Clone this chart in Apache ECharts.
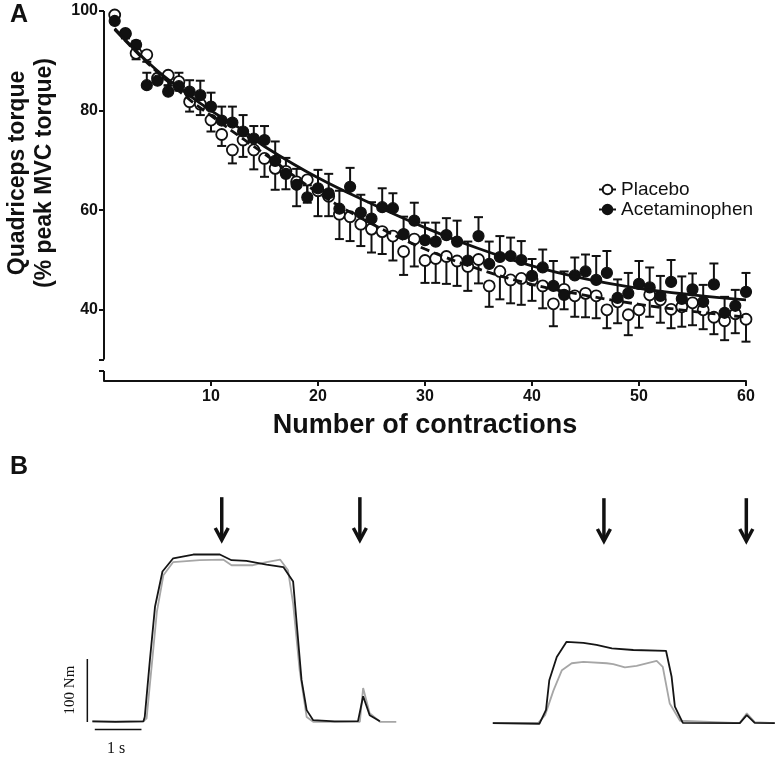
<!DOCTYPE html>
<html><head><meta charset="utf-8">
<script src="https://cdn.jsdelivr.net/npm/echarts@6/dist/echarts.min.js"></script>
<style>html,body{margin:0;padding:0;background:#fff}#c{width:779px;height:760px}</style>
</head><body><div id="c"></div>
<script>
// ---------- Panel A data ----------
const contractions = [1,2,3,4,5,6,7,8,9,10,11,12,13,14,15,16,17,18,19,20,21,22,23,24,25,26,27,28,29,30,31,32,33,34,35,36,37,38,39,40,41,42,43,44,45,46,47,48,49,50,51,52,53,54,55,56,57,58,59,60];
const placeboMean = [99.2,95.5,91.5,91.2,86.5,87.1,85.8,81.8,81.3,78.1,75.2,72.1,74.1,72.1,70.4,68.4,67.8,65.7,66.1,63.9,62.8,59.2,58.7,57.2,56.2,55.7,54.8,51.7,54.2,49.9,50.3,50.7,49.8,48.7,50.1,44.8,47.7,46.0,46.3,46.0,44.8,41.2,44.1,42.8,43.3,42.8,40.0,41.6,39.0,40.0,43.0,42.0,40.1,40.6,41.4,40.0,38.5,37.8,39.2,38.1];
const placeboErrLow = [98.5,94.5,90.3,89.8,85.5,85.1,84.0,79.8,79.1,75.8,72.9,69.4,70.7,68.2,66.7,64.1,64.2,60.8,61.5,58.8,58.8,54.2,53.8,52.8,51.5,51.2,49.9,47.0,48.7,45.4,45.4,45.2,44.8,43.8,45.3,40.6,42.1,41.3,41.0,41.8,40.3,36.7,40.1,38.6,38.5,38.3,36.3,37.3,34.9,36.4,38.6,37.4,36.3,36.6,36.9,36.1,35.1,33.9,35.3,33.6];
const acetMean = [98.0,95.4,93.2,85.1,86.0,83.8,84.9,83.8,83.1,80.8,78.0,77.6,75.8,74.4,74.1,69.9,67.3,65.1,62.6,64.4,63.4,60.3,64.7,59.5,58.3,60.6,60.4,55.2,57.9,54.0,53.7,55.0,53.7,49.9,54.8,49.2,50.6,50.8,50.0,46.8,48.5,44.8,43.0,46.9,47.7,46.0,47.4,42.4,43.3,45.2,44.5,42.8,45.6,42.2,44.1,41.6,45.1,39.4,40.8,43.6];
const acetErrHigh = [98.8,96.2,94.0,87.6,87.2,85.0,87.6,86.1,86.0,83.6,80.8,80.8,79.1,76.9,76.9,73.8,70.5,68.3,65.0,68.1,67.3,63.9,68.5,63.1,61.6,64.4,63.4,58.7,61.5,57.5,57.5,58.4,57.9,53.7,58.6,53.7,54.8,54.5,53.8,50.2,52.1,49.8,47.7,50.5,51.1,50.8,51.8,46.1,47.4,49.8,48.5,46.8,50.0,46.7,47.3,45.0,49.3,42.6,44.0,47.4];
const fitX = [1,3,5,8,10,13,15,20,25,30,35,40,45,50,55,60];
const placeboFit = [96.3,91.8,87.7,82.2,79.0,74.3,71.3,63.5,57.3,52.2,48.2,45.1,42.9,41.1,39.7,38.5];
const acetFit = [96.5,92.0,88.0,83.0,80.0,76.0,72.8,66.5,61.3,56.5,52.3,48.8,46.2,44.3,43.0,42.0];
const xTickValues = [10,20,30,40,50,60];
const yLabelValues = [40,60,80,100];
const yTickValues = [27.7,30,40,60,80,100];
const yAxisSegments = [[30,100],[25.7,27.7]];

// ---------- Panel B data (time s, torque Nm) ----------
const leftBlack = [[0.01,1],[0.5,0.5],[1.10,1],[1.13,8],[1.24,98],[1.35,183],[1.51,239],[1.74,260],[2.17,266],[2.74,266],[2.99,257],[3.31,256],[3.74,250],[4.10,246],[4.31,223],[4.38,162],[4.49,67],[4.60,19],[4.74,3],[5.2,1],[5.70,1.5],[5.81,41],[5.95,11],[6.17,1.5]];
const leftGray = [[0.0,1],[1.10,1],[1.17,6],[1.28,90],[1.39,175],[1.53,233],[1.74,254],[2.31,257],[2.81,258],[2.99,249],[3.45,249],[3.74,254],[4.03,258],[4.20,241],[4.31,188],[4.45,82],[4.60,8],[4.74,0.5],[5.74,0.5],[5.81,54],[5.95,14],[6.17,0.5],[6.52,0.5]];
const rightBlack = [[0.06,0],[1.06,-1],[1.20,21],[1.27,68],[1.43,105],[1.64,129],[2.00,127.5],[2.28,124],[2.61,118.6],[3.07,116],[3.77,114.8],[3.89,73.5],[3.96,26],[4.13,0.5],[5.35,0],[5.50,12.7],[5.67,0.5],[6.10,0]];
const rightGray = [[0.06,0.5],[1.03,0],[1.18,12.7],[1.36,52],[1.54,84],[1.75,95],[2.00,97.3],[2.50,95],[2.64,93.7],[2.89,88.4],[3.14,91],[3.57,98.9],[3.70,89.4],[3.85,31],[4.07,3.7],[5.35,0],[5.50,15.4],[5.67,1.6],[6.10,0]];
const arrowsLeft = [2.78,5.74];
const arrowsRight = [2.44,5.49];
const arrowTopNm = 357, arrowTipNm = 289;
const scaleBarVertical = [[-0.1,0],[-0.1,100]];
const scaleBarHorizontal = [[0.06,-11.6],[1.06,-11.6]];

const INK = '#111';
const chart = echarts.init(document.getElementById('c'), null, {renderer:'canvas'});

function errRender(params, api){
  const x = api.value(0), m = api.value(1), e = api.value(2);
  const p1 = api.coord([x,m]), p2 = api.coord([x,e]);
  return {type:'group', children:[
    {type:'line', shape:{x1:p1[0],y1:p1[1],x2:p2[0],y2:p2[1]}, style:{stroke:INK,lineWidth:2}},
    {type:'line', shape:{x1:p2[0]-4.5,y1:p2[1],x2:p2[0]+4.5,y2:p2[1]}, style:{stroke:INK,lineWidth:2}}
  ]};
}
function arrowRender(params, api){
  const t = api.value(0);
  const a = api.coord([t, arrowTopNm]), b = api.coord([t, arrowTipNm]);
  return {type:'group', children:[
    {type:'line', shape:{x1:a[0],y1:a[1],x2:b[0],y2:b[1]-2}, style:{stroke:INK,lineWidth:3.5}},
    {type:'polyline', shape:{points:[[b[0]-6.5,b[1]-12],[b[0],b[1]],[b[0]+6.5,b[1]-12]]}, style:{stroke:INK,lineWidth:3.5,fill:null,lineJoin:'miter'}}
  ]};
}
function segRender(params, api){
  const a = api.coord([0, api.value(0)]), b = api.coord([0, api.value(1)]);
  return {type:'line', shape:{x1:a[0],y1:a[1],x2:b[0],y2:b[1]}, style:{stroke:INK,lineWidth:2}};
}

const legendIcon = 'path://M0,6L3.5,6M12.5,6L16,6M3.5,6A4.5,4.5,0,1,0,12.5,6A4.5,4.5,0,1,0,3.5,6Z';
const FONT = '"Liberation Sans", Arial, sans-serif';
const SERIF = '"Liberation Serif", "Times New Roman", serif';

const option = {
  animation:false,
  backgroundColor:'#fff',
  grid:[
    {left:104, top:11, width:642, height:370},
    {left:78, top:489, width:322, height:252},
    {left:490, top:490, width:289, height:252}
  ],
  xAxis:[
    {gridIndex:0, type:'value', min:0, max:60,
     axisLine:{show:true, lineStyle:{color:INK,width:2}},
     axisTick:{show:true, customValues:xTickValues, length:5, lineStyle:{color:INK,width:2}},
     axisLabel:{customValues:xTickValues, color:INK, fontSize:16, fontWeight:'bold', fontFamily:FONT, margin:8},
     splitLine:{show:false},
     name:'Number of contractions', nameLocation:'middle', nameGap:31,
     nameTextStyle:{color:INK, fontSize:27, fontWeight:'bold', fontFamily:FONT}},
    {gridIndex:1, type:'value', min:-0.3, max:6.6, show:false},
    {gridIndex:2, type:'value', min:0, max:6.19, show:false}
  ],
  yAxis:[
    {gridIndex:0, type:'value', min:25.7, max:100,
     axisLine:{show:false},
     axisTick:{show:true, customValues:yTickValues, length:5, lineStyle:{color:INK,width:2}},
     axisLabel:{customValues:yLabelValues, color:INK, fontSize:16, fontWeight:'bold', fontFamily:FONT, margin:6},
     splitLine:{show:false}},
    {gridIndex:1, type:'value', min:-30, max:370, show:false},
    {gridIndex:2, type:'value', min:-30, max:370, show:false}
  ],
  legend:{
    orient:'vertical', left:593, top:175, itemGap:1, itemWidth:17, itemHeight:11,
    icon:legendIcon,
    textStyle:{color:INK, fontSize:19, fontFamily:FONT},
    data:['Placebo','Acetaminophen']
  },
  series:[
    {type:'custom', name:'yaxis', xAxisIndex:0, yAxisIndex:0, renderItem:segRender, data:yAxisSegments, silent:true, clip:false, z:1},
    {type:'custom', name:'placeboErr', xAxisIndex:0, yAxisIndex:0, renderItem:errRender,
     data:contractions.map((c,i)=>[c, placeboMean[i], placeboErrLow[i]]), z:2},
    {type:'custom', name:'acetErr', xAxisIndex:0, yAxisIndex:0, renderItem:errRender,
     data:contractions.map((c,i)=>[c, acetMean[i], acetErrHigh[i]]), z:2},
    {type:'scatter', name:'Placebo', xAxisIndex:0, yAxisIndex:0, symbol:'circle', symbolSize:11,
     itemStyle:{color:'#fff', borderColor:INK, borderWidth:1.8, opacity:1},
     data:contractions.map((c,i)=>[c, placeboMean[i]]), z:3},
    {type:'line', name:'placeboFit', xAxisIndex:0, yAxisIndex:0, smooth:0.4, showSymbol:false, symbol:'none',
     lineStyle:{color:INK, width:2.8, type:[9,5]}, data:fitX.map((x,i)=>[x, placeboFit[i]]), z:4},
    {type:'scatter', name:'Acetaminophen', xAxisIndex:0, yAxisIndex:0, symbol:'circle', symbolSize:11,
     itemStyle:{color:INK, borderColor:INK, borderWidth:1.2, opacity:1},
     data:contractions.map((c,i)=>[c, acetMean[i]]), z:5},
    {type:'line', name:'acetFit', xAxisIndex:0, yAxisIndex:0, smooth:0.4, showSymbol:false, symbol:'none',
     lineStyle:{color:INK, width:2.8}, data:fitX.map((x,i)=>[x, acetFit[i]]), z:6},

    {type:'line', name:'leftGray', xAxisIndex:1, yAxisIndex:1, showSymbol:false, symbol:'none', clip:false,
     lineStyle:{color:'#a6a6a6', width:1.8}, data:leftGray},
    {type:'line', name:'leftBlack', xAxisIndex:1, yAxisIndex:1, showSymbol:false, symbol:'none', clip:false,
     lineStyle:{color:'#151515', width:1.8}, data:leftBlack},
    {type:'line', name:'rightGray', xAxisIndex:2, yAxisIndex:2, showSymbol:false, symbol:'none', clip:false,
     lineStyle:{color:'#a6a6a6', width:1.8}, data:rightGray},
    {type:'line', name:'rightBlack', xAxisIndex:2, yAxisIndex:2, showSymbol:false, symbol:'none', clip:false,
     lineStyle:{color:'#151515', width:1.8}, data:rightBlack},
    {type:'line', name:'scaleV', xAxisIndex:1, yAxisIndex:1, showSymbol:false, symbol:'none', clip:false,
     lineStyle:{color:INK, width:1.5}, data:scaleBarVertical},
    {type:'line', name:'scaleH', xAxisIndex:1, yAxisIndex:1, showSymbol:false, symbol:'none', clip:false,
     lineStyle:{color:INK, width:1.5}, data:scaleBarHorizontal},
    {type:'custom', name:'arrowsL', xAxisIndex:1, yAxisIndex:1, renderItem:arrowRender, clip:false, data:arrowsLeft.map(t=>[t])},
    {type:'custom', name:'arrowsR', xAxisIndex:2, yAxisIndex:2, renderItem:arrowRender, clip:false, data:arrowsRight.map(t=>[t])}
  ],
  graphic:[
    {type:'text', left:10, top:3, style:{text:'A', font:'bold 25px '+FONT, fill:INK}},
    {type:'text', left:10, top:455, style:{text:'B', font:'bold 25px '+FONT, fill:INK}},
    {type:'text', x:31, y:173, rotation:Math.PI/2,
     style:{text:'Quadriceps torque\n(% peak MVC torque)', font:'bold 23px '+FONT, fill:INK, align:'center', verticalAlign:'middle', lineHeight:27}},
    {type:'text', x:70, y:690, rotation:Math.PI/2,
     style:{text:'100 Nm', font:'15px '+SERIF, fill:INK, align:'center', verticalAlign:'middle'}},
    {type:'text', x:116, y:749, style:{text:'1 s', font:'16px '+SERIF, fill:INK, align:'center', verticalAlign:'middle'}}
  ]
};
chart.setOption(option);
</script></body></html>
